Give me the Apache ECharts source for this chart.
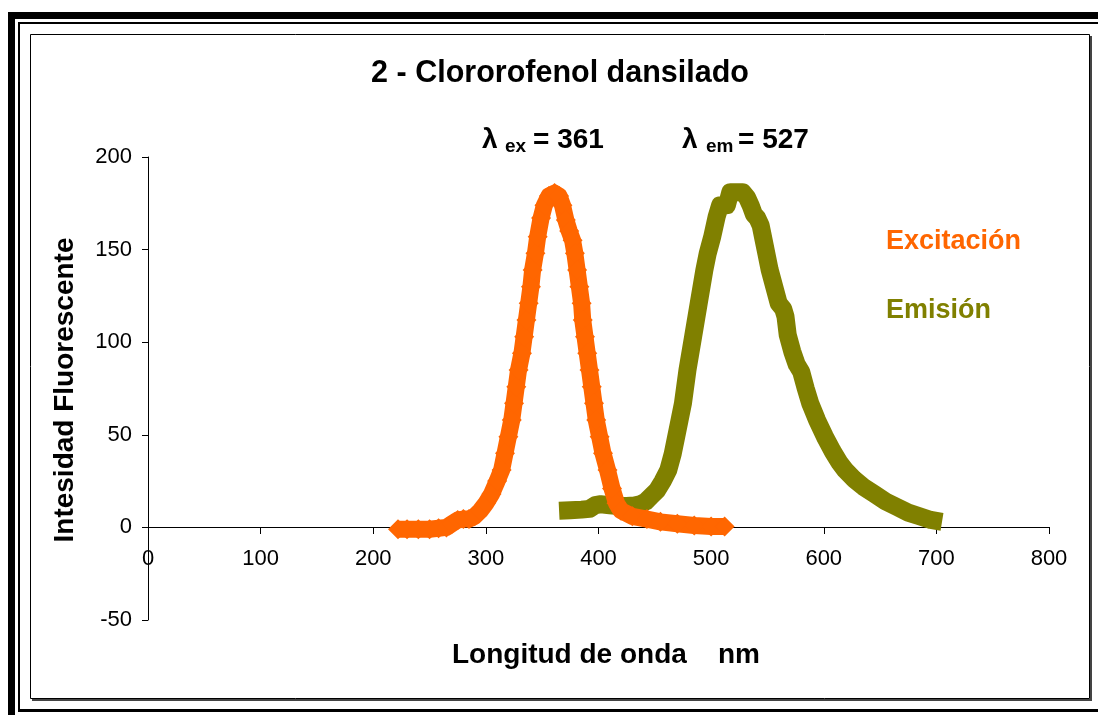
<!DOCTYPE html>
<html>
<head>
<meta charset="utf-8">
<script src="https://cdn.jsdelivr.net/npm/echarts@6/dist/echarts.min.js"></script>
<style>
html,body{margin:0;padding:0;background:#fff;}
#c{width:1098px;height:715px;}
</style>
</head>
<body>
<div id="c"></div>
<script>
// ---- Data ----
const excitacionX = [222,230,240,250,258,265,270,275,280,285,290,295,300,305,310,314,317,320,323,325,327,329,332,334,336,338,340,341.5,344,346,349,352,356,361,365,368,371,374,377,379,381,383,385,386,388,390,392,394,396,398,401,404,408,412,416,420,430,443,455,470,485,500,512];
const excitacionY = [-1,-1,-1,-1,-0.5,0,2,4,4.5,4.5,6,9,13,18,25,31,40,49,58,67,76,85,94,103,112,121,130,139,148,157,167,174,179,180.5,179,174,166,160,155,148,139,130,121,112,103,94,85,76,67,58,49,40,31,21,13,9,6,4.5,3,2,1,0.5,0.5];

const emisionX = [365,375,385,392,397,402,410,418,425,432,437,442,447,452,457,462,466,469,472,475,479,484,489,494,497,501,505,508,514,517,522,528,532,535,538,541,544,546,549,552,556,560,564,566,568,572,576,580,584,588,594,601,608,614,619,627,635,645,655,665,675,685,695,705];
const emisionY = [9,9.3,9.6,10,12,12.5,12,11.5,11.5,11.8,12.5,14,17,20,25,31,40,49,58,67,85,103,121,139,148,157,168,174,174,181,181,181,178,174,169,167,163,157,148,139,130,121,118,114,104,95,88,84,75,67,58,49,41,35,31,26,22,18,14,11,8,6,4,3];

const xTicks = {min:0, max:800, interval:100};
const yTicks = {min:-50, max:200, interval:50};

const titleText = '2 - Clororofenol dansilado';
const xName = 'Longitud de onda    nm';
const yName = 'Intesidad Fluorescente';

const toPairs = (xs, ys) => xs.map((x, i) => [x, ys[i]]);

const FONT = "'Liberation Sans', Arial, sans-serif";
const ORANGE = '#FF6600';
const OLIVE = '#808000';

const chart = echarts.init(document.getElementById('c'), null, {renderer:'canvas'});

function txt(text, x, y, size, color, align) {
  align = align || 'left';
  return {
    type:'text', z:100, silent:true,
    style:{
      text:text, x:x, y:y,
      font:'bold ' + size + 'px ' + FONT,
      fill:color,
      align:align, textAlign:align,
      verticalAlign:'middle', textVerticalAlign:'middle'
    }
  };
}

// grid: plot from y=157 (200) to y=620 (-50); zero line at y=527
const GRID_BOTTOM_Y = 620, ZERO_Y = 527;

const option = {
  backgroundColor:'#fff',
  animation:false,
  grid:{left:148, right:49, top:157, bottom:715 - GRID_BOTTOM_Y, containLabel:false},
  xAxis:{
    type:'value', min:xTicks.min, max:xTicks.max, interval:xTicks.interval,
    offset:-(GRID_BOTTOM_Y - ZERO_Y),
    axisLine:{show:true, onZero:false, lineStyle:{color:'#000', width:1}},
    axisTick:{show:true, inside:false, length:7, lineStyle:{color:'#000'}},
    axisLabel:{show:true, margin:21, color:'#000', fontSize:22, fontFamily:FONT},
    splitLine:{show:false}
  },
  yAxis:{
    type:'value', min:yTicks.min, max:yTicks.max, interval:yTicks.interval,
    axisLine:{show:true, onZero:false, lineStyle:{color:'#000', width:1}},
    axisTick:{show:true, inside:false, length:6, lineStyle:{color:'#000'}},
    axisLabel:{show:true, margin:16, color:'#000', fontSize:22, fontFamily:FONT},
    splitLine:{show:false}
  },
  series:[
    {
      name:'Emisión', type:'line', data:toPairs(emisionX, emisionY),
      symbol:'none', smooth:false, z:3,
      lineStyle:{color:OLIVE, width:18, cap:'butt', join:'round'}
    },
    {
      name:'Excitación', type:'line', data:toPairs(excitacionX, excitacionY),
      symbol:'diamond', symbolSize:20, showSymbol:true, smooth:false, z:4,
      itemStyle:{color:ORANGE, borderWidth:0},
      lineStyle:{color:ORANGE, width:17, join:'round'}
    }
  ],
  graphic:[
    // page border lines
    {type:'rect', silent:true, shape:{x:8, y:12, width:1090, height:7}, style:{fill:'#000'}},
    {type:'rect', silent:true, shape:{x:8, y:12, width:7, height:703}, style:{fill:'#000'}},
    {type:'rect', silent:true, shape:{x:18, y:22, width:1080, height:2}, style:{fill:'#000'}},
    {type:'rect', silent:true, shape:{x:18, y:22, width:2, height:690}, style:{fill:'#000'}},
    {type:'rect', silent:true, shape:{x:18, y:709, width:1080, height:3}, style:{fill:'#000'}},
    // chart box shadow
    {type:'rect', silent:true, shape:{x:1090, y:36, width:2, height:665}, style:{fill:'#444'}},
    {type:'rect', silent:true, shape:{x:32, y:699, width:1060, height:2}, style:{fill:'#444'}},
    // chart box
    {type:'rect', silent:true, shape:{x:30.5, y:34.5, width:1059, height:664}, style:{fill:'none', stroke:'#000', lineWidth:1}},
    // title
    txt(titleText, 560, 74, 30.5, '#000', 'center'),
    // lambda annotations
    txt('λ', 482, 140.5, 28, '#000'),
    txt('ex', 505, 147, 19, '#000'),
    txt('= 361', 533, 140.5, 28, '#000'),
    txt('λ', 682, 140.5, 28, '#000'),
    txt('em', 706, 147, 19, '#000'),
    txt('= 527', 738, 140.5, 28, '#000'),
    // series labels
    txt('Excitación', 886, 242, 27, ORANGE),
    txt('Emisión', 886, 311, 27, OLIVE),
    // axis names
    txt(xName, 452, 655, 28, '#000'),
    {type:'text', z:100, silent:true, x:65, y:390, rotation:Math.PI/2,
     style:{text:yName, x:0, y:0, font:'bold 28px ' + FONT, fill:'#000', align:'center', textAlign:'center', verticalAlign:'middle', textVerticalAlign:'middle'}}
  ]
};
chart.setOption(option);
</script>
</body>
</html>
